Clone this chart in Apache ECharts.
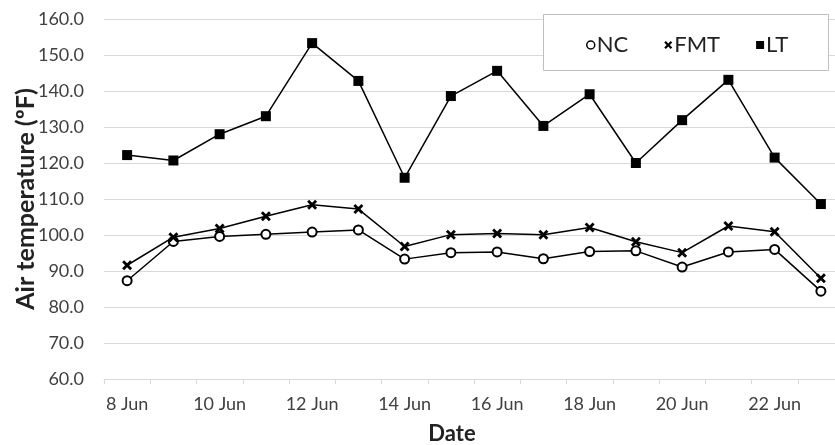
<!DOCTYPE html>
<html>
<head>
<meta charset="utf-8">
<script src="https://cdn.jsdelivr.net/npm/echarts@6/dist/echarts.min.js"></script>
<style>
html,body{margin:0;padding:0;background:#fff;}
#c{width:835px;height:445px;}
</style>
</head>
<body>
<div id="c"></div>
<script>
var categories = ['8 Jun','9 Jun','10 Jun','11 Jun','12 Jun','13 Jun','14 Jun','15 Jun','16 Jun','17 Jun','18 Jun','19 Jun','20 Jun','21 Jun','22 Jun','23 Jun'];
var ncValues  = [87.3, 98.2, 99.6, 100.2, 100.8, 101.4, 93.3, 95.1, 95.3, 93.4, 95.4, 95.6, 91.1, 95.3, 96.0, 84.4];
var fmtValues = [91.6, 99.4, 101.8, 105.2, 108.4, 107.2, 96.8, 100.1, 100.4, 100.1, 102.1, 98.1, 95.1, 102.5, 100.9, 88.0];
var ltValues  = [122.2, 120.7, 128.0, 133.0, 153.3, 142.8, 115.9, 138.6, 145.6, 130.3, 139.1, 120.0, 131.9, 143.1, 121.5, 108.6];
var seriesNames = ['NC', 'FMT', 'LT'];

var FONT = 'Lato';
var crossPath = 'path://M2,0 L5,3 L8,0 L10,2 L7,5 L10,8 L8,10 L5,7 L2,10 L0,8 L3,5 L0,2 Z';

var chart = echarts.init(document.getElementById('c'), null, {renderer: 'canvas'});
chart.setOption({
  animation: false,
  backgroundColor: '#fff',
  textStyle: {fontFamily: FONT},
  grid: {left: 104, right: -9, top: 19, bottom: 66, containLabel: false, outerBoundsMode: 'none'},
  graphic: [{
    type: 'rect', z: 3, left: 543, top: 14,
    shape: {width: 285, height: 56},
    style: {fill: '#fff', stroke: '#bfbfbf', lineWidth: 1}
  }],
  legend: {
    left: 581, top: 29, z: 10,
    itemGap: 36, itemWidth: 8, itemHeight: 8,
    textStyle: {fontFamily: FONT, fontSize: 22, color: '#222', padding: [0,0,0,-3]},
    data: [
      {name: seriesNames[0], icon: 'circle', itemStyle: {color: '#fff', borderColor: '#000', borderWidth: 1.5}},
      {name: seriesNames[1], icon: crossPath, itemStyle: {color: '#000', borderWidth: 0}},
      {name: seriesNames[2], icon: 'rect', itemStyle: {color: '#000', borderWidth: 0}}
    ]
  },
  xAxis: {
    type: 'category', data: categories, boundaryGap: true,
    name: 'Date', nameLocation: 'middle', nameGap: 44,
    nameTextStyle: {fontFamily: FONT, fontSize: 22, fontWeight: 'bold', color: '#222', padding: [0, 44, 0, 0]},
    axisLine: {lineStyle: {color: '#d9d9d9', width: 1}},
    axisTick: {show: true, alignWithLabel: false, interval: 0, length: 5, lineStyle: {color: '#d9d9d9'}},
    axisLabel: {interval: 1, fontFamily: FONT, fontSize: 18, color: '#404040', margin: 16},
    splitLine: {show: false}
  },
  yAxis: {
    type: 'value', min: 60, max: 160, interval: 10,
    name: 'Air temperature (ºF)', nameLocation: 'middle', nameGap: 66, nameMoveOverlap: false,
    nameTextStyle: {fontFamily: FONT, fontSize: 25, fontWeight: 'bold', color: '#222'},
    axisLine: {show: false}, axisTick: {show: false},
    axisLabel: {fontFamily: FONT, fontSize: 18, color: '#404040', margin: 20,
      formatter: function (v) { return v.toFixed(1); }},
    splitLine: {lineStyle: {color: '#d9d9d9', width: 1}}
  },
  series: [
    {name: seriesNames[0], type: 'line', data: ncValues, symbol: 'circle', symbolSize: 9,
     lineStyle: {color: '#000', width: 1.5},
     itemStyle: {color: '#fff', borderColor: '#000', borderWidth: 2}},
    {name: seriesNames[1], type: 'line', data: fmtValues, symbol: crossPath, symbolSize: 10,
     lineStyle: {color: '#000', width: 1.5},
     itemStyle: {color: '#000', borderWidth: 0}},
    {name: seriesNames[2], type: 'line', data: ltValues, symbol: 'rect', symbolSize: 10,
     lineStyle: {color: '#000', width: 1.5},
     itemStyle: {color: '#000', borderWidth: 0}}
  ]
});
</script>
</body>
</html>
